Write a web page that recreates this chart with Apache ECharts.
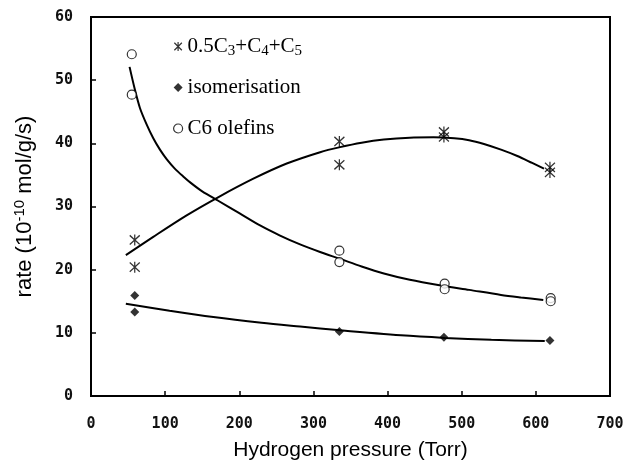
<!DOCTYPE html>
<html><head><meta charset="utf-8">
<script src="https://cdn.jsdelivr.net/npm/echarts@6/dist/echarts.min.js"></script>
<style>html,body{margin:0;padding:0;background:#fff}#c{width:629px;height:469px}</style>
</head><body><div id="c"></div>
<script>
// measured points
const c5X  = [59, 59, 335, 335, 476, 476, 619, 619];
const c5Y  = [24.7, 20.4, 40.3, 36.6, 41.8, 41.0, 36.2, 35.4];
const isoX = [59, 59, 335, 476, 619];
const isoY = [15.9, 13.3, 10.2, 9.3, 8.8];
const oleX = [55, 55, 335, 335, 477, 477, 620, 620];
const oleY = [54.1, 47.7, 23.0, 21.2, 17.8, 16.9, 15.5, 15.0];
// fitted curves
const c5FitX  = [47, 84, 129, 172, 219, 264, 309, 336, 365, 395, 430, 462, 490, 510, 530, 553, 575, 595, 611];
const c5FitY  = [22.3, 25.2, 28.6, 31.5, 34.4, 36.8, 38.6, 39.4, 40.1, 40.6, 40.9, 40.95, 40.8, 40.5, 39.9, 39.0, 38.0, 36.9, 36.0];
const oleFitX = [52, 59, 66, 75, 84, 93, 102, 113, 124, 135, 150, 171, 200, 228, 255, 282, 309, 336, 365, 395, 430, 472, 510, 553, 580, 610];
const oleFitY = [52.1, 48.6, 45.6, 43.0, 40.8, 39.0, 37.5, 36.0, 34.8, 33.7, 32.4, 30.95, 28.95, 27.0, 25.4, 24.0, 22.8, 21.7, 20.5, 19.4, 18.4, 17.5, 16.8, 16.0, 15.6, 15.2];
const isoFitX = [47, 106, 165, 230, 282, 336, 418, 477, 540, 612];
const isoFitY = [14.6, 13.5, 12.5, 11.6, 11.0, 10.4, 9.6, 9.2, 8.9, 8.7];
// axes
const xMin = 0, xMax = 700, xStep = 100;
const yMin = 0, yMax = 60, yStep = 10;
const names = ['0.5C3+C4+C5', 'isomerisation', 'C6 olefins'];
const legendLabels = ['0.5C{sub|3}+C{sub|4}+C{sub|5}', 'isomerisation', 'C6 olefins'];

const zip = (a, b) => a.map((v, i) => [v, b[i]]);
const starPath = 'path://M0,1L10,11M10,1L0,11M5,0L5,12';

const tickFont = {fontFamily: 'DejaVu Sans Mono', fontSize: 15, fontWeight: 'bold', color: '#111'};
const fitLine = {type: 'line', smooth: 0.3, symbol: 'none', lineStyle: {color: '#000', width: 2}, z: 2, silent: true};
const chart = echarts.init(document.getElementById('c'));
chart.setOption({
  animation: false,
  grid: {left: 91, right: 19, top: 17, bottom: 73, show: true, borderColor: '#000', borderWidth: 2, backgroundColor: 'transparent'},
  legend: {
    orient: 'vertical', left: 168, top: 29, itemWidth: 9, itemHeight: 9, itemGap: 16,
    selectedMode: false,
    textStyle: {fontFamily: 'Liberation Serif', fontSize: 21, color: '#000', lineHeight: 25,
      rich: {sub: {fontFamily: 'Liberation Serif', fontSize: 15, color: '#000', verticalAlign: 'bottom', lineHeight: 25, padding: [8, 0, 0, 0]}}},
    formatter: n => legendLabels[names.indexOf(n)],
    data: [
      {name: names[0], icon: starPath, itemStyle: {color: 'rgba(0,0,0,0)', borderColor: '#000', borderWidth: 1.2}},
      {name: names[1], icon: 'diamond', itemStyle: {color: '#000'}},
      {name: names[2], icon: 'circle', itemStyle: {color: '#fff', borderColor: '#000', borderWidth: 1.2}}
    ]
  },
  xAxis: {
    type: 'value', min: xMin, max: xMax, interval: xStep,
    name: 'Hydrogen pressure (Torr)', nameLocation: 'middle', nameGap: 44,
    nameTextStyle: {fontFamily: 'Liberation Sans', fontSize: 21, color: '#000'},
    axisLine: {lineStyle: {color: '#000', width: 2}},
    axisTick: {inside: true, length: 5, lineStyle: {color: '#000', width: 1.5}},
    axisLabel: Object.assign({margin: 21}, tickFont),
    splitLine: {show: false}
  },
  yAxis: {
    type: 'value', min: yMin, max: yMax, interval: yStep,
    name: 'rate (10{sup|-10} mol/g/s)', nameLocation: 'middle', nameGap: 53,
    nameTextStyle: {fontFamily: 'Liberation Sans', fontSize: 22, color: '#000', lineHeight: 26,
      rich: {sup: {fontFamily: 'Liberation Sans', fontSize: 15, color: '#000', verticalAlign: 'top', lineHeight: 26, padding: [0, 0, 8, 0]}}},
    axisLine: {lineStyle: {color: '#000', width: 2}},
    axisTick: {inside: true, length: 5, lineStyle: {color: '#000', width: 1.5}},
    axisLabel: Object.assign({margin: 18}, tickFont),
    splitLine: {show: false}
  },
  series: [
    Object.assign({data: zip(c5FitX, c5FitY)}, fitLine),
    Object.assign({data: zip(oleFitX, oleFitY)}, fitLine),
    Object.assign({data: zip(isoFitX, isoFitY)}, fitLine),
    {name: names[0], type: 'scatter', data: zip(c5X, c5Y), symbol: starPath, symbolSize: [10, 11],
      itemStyle: {color: 'rgba(0,0,0,0)', borderColor: '#000', borderWidth: 1.3}, z: 5},
    {name: names[1], type: 'scatter', data: zip(isoX, isoY), symbol: 'diamond', symbolSize: 9,
      itemStyle: {color: '#000'}, z: 5},
    {name: names[2], type: 'scatter', data: zip(oleX, oleY), symbol: 'circle', symbolSize: 9,
      itemStyle: {color: '#fff', borderColor: '#000', borderWidth: 1.2}, z: 5}
  ]
});
</script></body></html>
